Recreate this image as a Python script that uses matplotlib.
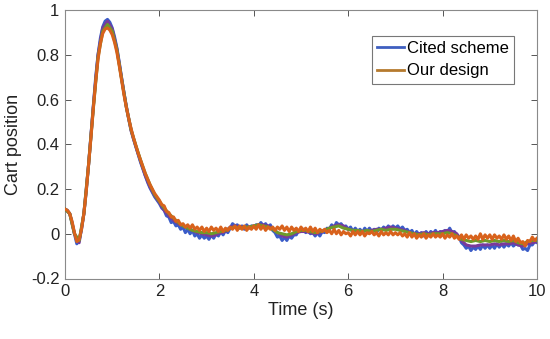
import numpy as np
import matplotlib
matplotlib.use("Agg")
import matplotlib.pyplot as plt
from matplotlib.lines import Line2D

plt.rcParams['font.family'] = ['Liberation Sans', 'DejaVu Sans']

# time grids
t_fine = np.round(np.arange(0, 10.0001, 0.05), 3)
t_coarse = np.round(np.arange(0, 10.0001, 0.1), 3)

cited_scheme = [
    0.11, 0.105, 0.09, 0.05, 0.0, -0.045, -0.03, 0.02, 0.09, 0.19, 0.31, 0.44, 0.57, 0.70, 0.80, 0.875, 0.925, 0.95, 0.958, 0.945,
    0.92, 0.88, 0.83, 0.765, 0.695, 0.63, 0.57, 0.515, 0.465, 0.425, 0.39, 0.355, 0.32, 0.29, 0.26, 0.23, 0.205, 0.185, 0.165, 0.15,
    0.135, 0.115, 0.105, 0.08, 0.075, 0.05, 0.055, 0.035, 0.04, 0.02, 0.03, 0.005, 0.02, 0.0, 0.015, -0.01, 0.0, -0.02, -0.005, -0.02,
    -0.01, -0.025, -0.005, -0.02, 0.0, -0.01, 0.01, -0.005, 0.015, 0.005, 0.025, 0.045, 0.035, 0.04, 0.025, 0.035, 0.02, 0.04, 0.025, 0.035,
    0.03, 0.04, 0.035, 0.05, 0.035, 0.045, 0.03, 0.04, 0.015, 0.005, -0.015, -0.01, -0.03, -0.015, -0.03, -0.01, -0.02, -0.005, -0.005, 0.015,
    0.01, 0.02, 0.005, 0.015, 0.0, 0.005, -0.01, 0.005, -0.01, 0.01, 0.005, 0.025, 0.02, 0.04, 0.025, 0.05, 0.04, 0.045, 0.03, 0.035,
    0.02, 0.03, 0.01, 0.025, 0.01, 0.02, 0.005, 0.025, 0.01, 0.025, 0.01, 0.02, 0.005, 0.025, 0.015, 0.03, 0.02, 0.035, 0.02, 0.035,
    0.025, 0.035, 0.02, 0.03, 0.015, 0.02, 0.005, 0.015, -0.005, 0.01, -0.005, 0.005, -0.01, 0.01, -0.005, 0.01, 0.0, 0.015, -0.005, 0.01,
    0.005, 0.015, 0.005, 0.025, 0.005, 0.01, -0.005, -0.015, -0.04, -0.05, -0.065, -0.055, -0.075, -0.06, -0.07, -0.055, -0.07, -0.05, -0.065, -0.05,
    -0.065, -0.05, -0.065, -0.045, -0.06, -0.045, -0.06, -0.045, -0.055, -0.04, -0.055, -0.045, -0.05, -0.05, -0.07, -0.065, -0.075, -0.05, -0.05, -0.035,
    -0.04,
]

our_design = [
    0.11, 0.105, 0.09, 0.055, 0.005, -0.035, -0.025, 0.02, 0.09, 0.19, 0.31, 0.43, 0.56, 0.68, 0.78, 0.85, 0.895, 0.915, 0.92, 0.91,
    0.89, 0.855, 0.81, 0.75, 0.685, 0.62, 0.565, 0.515, 0.47, 0.43, 0.395, 0.36, 0.33, 0.30, 0.27, 0.245, 0.22, 0.20, 0.18, 0.165,
    0.15, 0.13, 0.125, 0.1, 0.095, 0.075, 0.075, 0.055, 0.06, 0.04, 0.045, 0.03, 0.04, 0.025, 0.04, 0.02, 0.03, 0.015, 0.03, 0.01,
    0.025, 0.01, 0.03, 0.015, 0.025, 0.01, 0.03, 0.01, 0.025, 0.015, 0.03, 0.02, 0.035, 0.015, 0.035, 0.02, 0.035, 0.015, 0.03, 0.02,
    0.035, 0.02, 0.04, 0.02, 0.035, 0.015, 0.03, 0.02, 0.03, 0.015, 0.03, 0.02, 0.035, 0.015, 0.03, 0.01, 0.03, 0.015, 0.025, 0.01,
    0.03, 0.015, 0.025, 0.01, 0.03, 0.01, 0.025, 0.005, 0.02, 0.01, 0.02, 0.005, 0.015, 0.0, 0.02, 0.0, 0.015, -0.005, 0.01, 0.0,
    0.005, -0.01, 0.01, -0.005, 0.01, -0.005, 0.01, -0.01, 0.005, 0.0, 0.01, -0.005, 0.005, -0.01, 0.01, -0.005, 0.005, -0.005, 0.01, -0.005,
    0.005, -0.005, 0.005, -0.01, 0.0, -0.015, 0.005, -0.015, 0.0, -0.02, -0.005, -0.015, 0.0, -0.02, -0.005, -0.015, 0.0, -0.015, -0.005, -0.015,
    0.0, -0.02, -0.005, -0.015, 0.0, -0.02, -0.01, -0.025, -0.005, -0.025, -0.005, -0.02, -0.01, -0.025, -0.01, -0.025, 0.0, -0.025, -0.005, -0.02,
    -0.005, -0.025, -0.005, -0.02, -0.01, -0.025, -0.005, -0.025, -0.01, -0.03, -0.01, -0.035, -0.02, -0.04, -0.035, -0.055, -0.03, -0.035, -0.015, -0.03,
    -0.02,
]

run_green = [
    0.11, 0.09, 0.0, -0.03, 0.09, 0.31, 0.56, 0.79, 0.905, 0.935,
    0.905, 0.82, 0.69, 0.565, 0.465, 0.395, 0.33, 0.27, 0.22, 0.175,
    0.145, 0.115, 0.09, 0.07, 0.05, 0.035, 0.025, 0.015, 0.01, 0.005,
    0.005, 0.0, 0.005, 0.01, 0.015, 0.025, 0.03, 0.025, 0.03, 0.03,
    0.035, 0.04, 0.035, 0.03, 0.02, 0.005, 0.0, -0.005, 0.0, 0.01,
    0.015, 0.015, 0.01, 0.005, 0.01, 0.015, 0.025, 0.03, 0.035, 0.025,
    0.02, 0.015, 0.015, 0.01, 0.015, 0.01, 0.015, 0.02, 0.015, 0.02,
    0.02, 0.015, 0.01, 0.005, 0.0, -0.005, 0.0, -0.005, 0.0, 0.0,
    0.0, 0.005, 0.0, -0.01, -0.025, -0.03, -0.035, -0.03, -0.035, -0.03,
    -0.035, -0.03, -0.035, -0.03, -0.035, -0.03, -0.04, -0.045, -0.035, -0.03,
    -0.03,
]

run_purple = [
    0.11, 0.09, 0.0, -0.04, 0.09, 0.31, 0.57, 0.80, 0.92, 0.95,
    0.915, 0.825, 0.695, 0.565, 0.46, 0.39, 0.325, 0.26, 0.21, 0.17,
    0.14, 0.105, 0.08, 0.06, 0.045, 0.035, 0.025, 0.015, 0.005, 0.0,
    -0.005, -0.01, -0.005, 0.005, 0.01, 0.03, 0.035, 0.03, 0.03, 0.03,
    0.035, 0.04, 0.04, 0.035, 0.025, 0.005, -0.01, -0.015, -0.005, 0.005,
    0.01, 0.01, 0.005, 0.0, 0.005, 0.015, 0.025, 0.035, 0.04, 0.035,
    0.02, 0.015, 0.015, 0.01, 0.015, 0.015, 0.02, 0.02, 0.025, 0.03,
    0.025, 0.02, 0.015, 0.005, 0.0, 0.0, 0.005, 0.0, 0.005, 0.005,
    0.01, 0.015, 0.01, 0.0, -0.03, -0.05, -0.055, -0.055, -0.05, -0.05,
    -0.05, -0.045, -0.05, -0.045, -0.045, -0.04, -0.05, -0.055, -0.045, -0.04,
    -0.035,
]

legend_labels = ["Cited scheme", "Our design"]
x_ticks = [0, 2, 4, 6, 8, 10]
y_ticks = [-0.2, 0, 0.2, 0.4, 0.6, 0.8, 1]

fig = plt.figure(figsize=(5.5, 3.39), dpi=100)
ax = fig.add_axes([65/550, 1-278.5/339, (537-65)/550, (278.5-10)/339])

lw = 2.2
ax.plot(t_fine, cited_scheme, color="#3a5cc8", lw=lw, zorder=2)
ax.plot(t_coarse, run_purple, color="#7a3a9a", lw=lw, zorder=3)
ax.plot(t_coarse, run_green, color="#6e9a2a", lw=lw, zorder=4)
ax.plot(t_fine, our_design, color="#d8621c", lw=lw, zorder=5)

ax.set_xlim(0, 10)
ax.set_ylim(-0.2, 1)
ax.set_xticks(x_ticks)
ax.set_xticklabels([str(v) for v in x_ticks])
ax.set_yticks(y_ticks)
ax.set_yticklabels(["-0.2", "0", "0.2", "0.4", "0.6", "0.8", "1"])

spine_c = "#8a8a8a"
for s in ax.spines.values():
    s.set_color(spine_c)
    s.set_linewidth(0.8)
ax.tick_params(direction="in", length=4, width=0.7, color="#555555",
               labelsize=12, labelcolor="#222222", top=True, right=True, pad=4)

ax.set_xlabel("Time (s)", fontsize=13, color="#222222", labelpad=2)
ax.set_ylabel("Cart position", fontsize=13, color="#222222", labelpad=6)

handles = [Line2D([0], [0], color="#3f5fc0", lw=2),
           Line2D([0], [0], color="#b57a2e", lw=2)]
leg = ax.legend(handles, legend_labels, loc="upper right",
                bbox_to_anchor=((514-65)/472, 1-(36-10)/268.5),
                fontsize=12, frameon=True, fancybox=False,
                handlelength=1.6, handletextpad=0.2, borderpad=0.3,
                labelspacing=0.45, borderaxespad=0)
leg.get_frame().set_edgecolor("#555555")
leg.get_frame().set_linewidth(0.8)

fig.savefig("out.png", dpi=100)
